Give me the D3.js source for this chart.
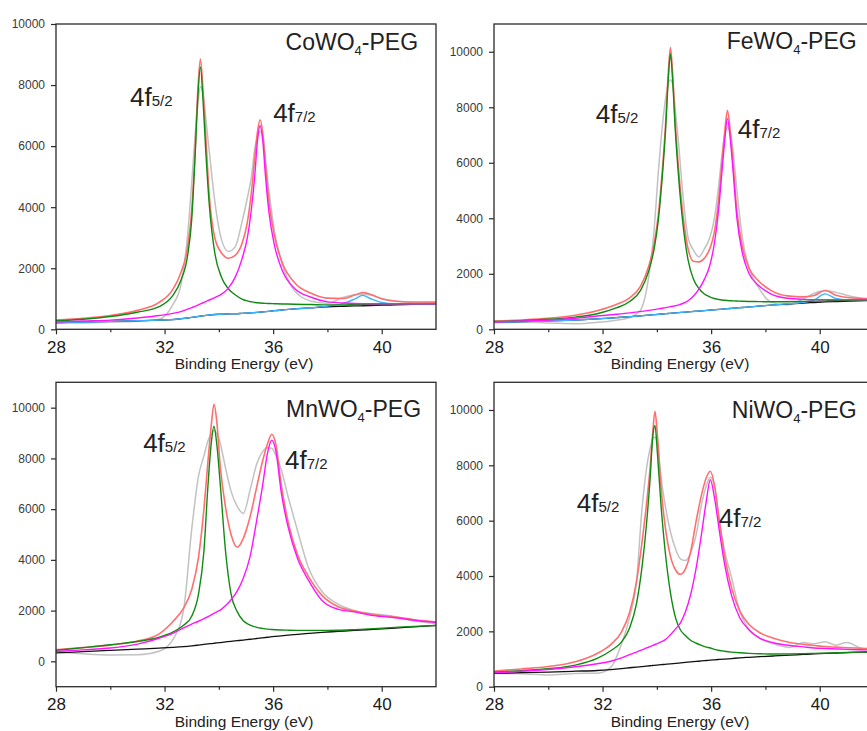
<!DOCTYPE html>
<html>
<head>
<meta charset="utf-8">
<script src="https://cdn.jsdelivr.net/npm/d3@7"></script>
<style>
    body { margin: 0; background: #fff; }
    svg { display: block; font-family: "Liberation Sans", Arial, sans-serif; }
</style>
</head>
<body>
<svg id="chart" width="867" height="731"></svg>
<script>
// ---- values (binding energy in eV, counts) ----
const energyTicks = [28, 32, 36, 40]
const energyMinor = [30, 34, 38]
const countTicks = [0, 2000, 4000, 6000, 8000, 10000]

// CoWO4-PEG
const coX    = [28, 29, 30, 31, 31.8, 32.3, 32.6, 32.85, 33.0, 33.12, 33.22, 33.32, 33.42, 33.52, 33.65, 33.85, 34.1, 34.35, 34.6, 34.85, 35.05, 35.2, 35.32, 35.42, 35.52, 35.62, 35.72, 35.85, 36.05, 36.35, 36.8, 37.4, 38.0, 38.6, 39.0, 39.3, 39.6, 40.0, 40.5, 41.2, 42]
const coRaw  = [200, 210, 230, 260, 330, 800, 1450, 3100, 4800, 6300, 7300, 7954, 7700, 6900, 5800, 4200, 2928, 2550, 2700, 3500, 4300, 5000, 5900, 6300, 6479, 6300, 5500, 4500, 3200, 2100, 1250, 920, 850, 1050, 1130, 1150, 1120, 1000, 930, 880, 870]
const coFit  = [300, 360, 450, 620, 880, 1300, 1850, 2700, 3900, 5750, 7750, 8852, 7800, 6300, 4350, 3000, 2500, 2328, 2420, 2800, 3500, 4500, 5600, 6450, 6862, 6400, 5400, 4150, 3050, 2150, 1520, 1180, 1020, 1010, 1120, 1200, 1140, 1000, 920, 895, 890]
const coF52  = [280, 330, 420, 560, 740, 1100, 1600, 2420, 3600, 5600, 7500, 8590, 7450, 5800, 4050, 2500, 1700, 1330, 1130, 990, 930, 900, 880, 870, 862, 855, 850, 845, 838, 830, 820, 810, 800, 800, 805, 808, 812, 815, 820, 828, 835]
const coF72  = [240, 270, 300, 370, 450, 520, 580, 660, 710, 750, 790, 830, 870, 910, 960, 1040, 1150, 1350, 1700, 2300, 3000, 3950, 5000, 6150, 6666, 6150, 5000, 3800, 2750, 1900, 1330, 1050, 900, 860, 845, 840, 838, 835, 835, 835, 838]
const coBg   = [220, 240, 260, 280, 300, 320, 345, 370, 390, 405, 418, 430, 442, 455, 468, 485, 495, 505, 510, 522, 532, 540, 548, 555, 562, 570, 578, 590, 610, 635, 668, 705, 738, 755, 765, 772, 780, 790, 800, 815, 830]
const coSat  = [220, 240, 260, 280, 300, 320, 345, 370, 390, 405, 418, 430, 442, 455, 468, 485, 495, 505, 510, 522, 532, 540, 548, 555, 562, 570, 578, 590, 610, 635, 668, 705, 760, 850, 990, 1110, 1000, 880, 830, 822, 830]

// FeWO4-PEG
const feX    = [28, 29, 30, 31, 31.8, 32.5, 33.0, 33.4, 33.7, 33.9, 34.05, 34.2, 34.32, 34.42, 34.5, 34.58, 34.68, 34.8, 34.95, 35.15, 35.35, 35.55, 35.75, 35.95, 36.12, 36.28, 36.4, 36.5, 36.6, 36.7, 36.8, 36.95, 37.15, 37.4, 37.75, 38.2, 38.8, 39.4, 39.8, 40.2, 40.6, 41.1, 42]
const feRaw  = [240, 250, 230, 200, 250, 330, 420, 700, 1900, 3600, 5600, 7300, 8300, 8850, 8983, 8850, 7900, 6700, 4950, 3300, 2850, 2610, 2900, 3300, 4000, 5200, 6300, 7000, 7282, 7100, 6500, 5000, 3300, 2200, 1500, 980, 880, 1100, 1300, 1400, 1330, 1200, 1060]
const feFit  = [295, 335, 395, 505, 665, 890, 1135, 1555, 2270, 3083, 4095, 5708, 7379, 9230, 10155, 9246, 7419, 5779, 4218, 2902, 2450, 2430, 2560, 2900, 3507, 4709, 6029, 7111, 7895, 7180, 6067, 4248, 2974, 2197, 1742, 1402, 1205, 1170, 1220, 1400, 1225, 1137, 1100]
const feF52  = [280, 310, 360, 440, 560, 770, 1000, 1400, 2100, 2900, 3900, 5500, 7161, 9000, 9917, 9000, 7161, 5500, 3900, 2500, 1800, 1470, 1270, 1170, 1110, 1075, 1055, 1045, 1037, 1030, 1025, 1018, 1010, 1003, 997, 992, 995, 1005, 1015, 1025, 1035, 1045, 1060]
const feF72  = [265, 300, 335, 400, 480, 540, 590, 640, 680, 710, 735, 760, 780, 800, 815, 830, 850, 880, 930, 1030, 1200, 1450, 1800, 2300, 3100, 4350, 5700, 6800, 7600, 6900, 5800, 4000, 2750, 2000, 1580, 1280, 1120, 1080, 1070, 1070, 1070, 1070, 1075]
const feBg   = [250, 275, 300, 335, 375, 420, 455, 485, 510, 527, 540, 552, 562, 570, 577, 584, 592, 601, 612, 628, 643, 658, 673, 690, 703, 716, 726, 734, 742, 750, 758, 770, 786, 806, 835, 870, 910, 945, 965, 985, 1000, 1018, 1045]
const feSat  = [250, 275, 300, 335, 375, 420, 455, 485, 510, 527, 540, 552, 562, 570, 577, 584, 592, 601, 612, 628, 643, 658, 673, 690, 703, 716, 726, 734, 742, 750, 758, 770, 786, 806, 835, 870, 915, 975, 1060, 1275, 1110, 1045, 1052]

// MnWO4-PEG
const mnX    = [28, 29, 30, 31, 31.8, 32.3, 32.7, 33.0, 33.25, 33.45, 33.6, 33.72, 33.82, 33.92, 34.05, 34.25, 34.45, 34.68, 34.9, 35.15, 35.4, 35.6, 35.8, 35.95, 36.1, 36.3, 36.55, 36.9, 37.3, 37.8, 38.4, 39, 39.7, 40.5, 41.2, 42]
const mnRaw  = [390, 300, 250, 260, 400, 850, 2030, 5200, 7300, 8100, 8700, 8950, 9100, 9000, 8600, 7600, 6700, 6100, 5832, 6750, 7800, 8250, 8420, 8400, 8120, 7550, 6500, 5150, 3700, 2750, 2250, 2000, 1880, 1760, 1590, 1507]
const mnFit  = [460, 540, 640, 800, 1080, 1560, 2100, 2830, 4100, 6000, 7900, 9300, 10130, 9500, 7700, 6050, 5000, 4497, 4850, 5700, 6900, 7850, 8600, 8950, 8550, 6950, 5500, 4200, 3350, 2600, 2150, 1980, 1830, 1750, 1640, 1550]
const mnF52  = [433, 540, 656, 780, 950, 1150, 1420, 1780, 2650, 4350, 6950, 8600, 9265, 8600, 7000, 4300, 2650, 1950, 1600, 1430, 1340, 1300, 1270, 1255, 1245, 1235, 1228, 1222, 1220, 1220, 1225, 1250, 1290, 1340, 1380, 1415]
const mnF72  = [393, 450, 524, 680, 910, 1100, 1320, 1470, 1580, 1680, 1760, 1830, 1890, 1950, 2020, 2200, 2430, 2780, 3280, 4130, 5600, 6850, 8250, 8715, 8300, 6650, 5300, 4050, 3200, 2400, 2050, 1950, 1800, 1720, 1620, 1533]
const mnBg   = [330, 380, 430, 480, 520, 550, 580, 610, 640, 665, 685, 700, 712, 724, 740, 765, 790, 815, 840, 870, 900, 925, 950, 970, 985, 1005, 1030, 1065, 1100, 1140, 1180, 1220, 1260, 1310, 1360, 1415]

// NiWO4-PEG
const niX    = [28, 29, 30, 31, 31.8, 32.3, 32.7, 33.0, 33.25, 33.45, 33.62, 33.75, 33.85, 33.93, 34.02, 34.15, 34.3, 34.5, 34.7, 34.87, 35.05, 35.25, 35.45, 35.65, 35.82, 35.97, 36.12, 36.3, 36.5, 36.75, 37.05, 37.4, 37.8, 38.3, 38.9, 39.4, 39.8, 40.2, 40.6, 41, 41.5, 42]
const niRaw  = [483, 470, 421, 480, 490, 700, 1550, 2524, 3800, 6400, 7900, 8600, 8950, 9012, 8800, 7600, 6600, 5600, 4950, 4620, 4560, 4850, 5500, 6600, 7250, 7573, 7250, 6000, 4900, 3950, 2750, 2050, 1750, 1550, 1420, 1600, 1550, 1620, 1500, 1600, 1400, 1330]
const niFit  = [560, 640, 730, 900, 1200, 1520, 1980, 2700, 3800, 5200, 6600, 7900, 9200, 9950, 9100, 7250, 5850, 4720, 4200, 4063, 4250, 4900, 6000, 6950, 7550, 7787, 7300, 6000, 4700, 3580, 2750, 2250, 1950, 1750, 1600, 1530, 1490, 1450, 1430, 1410, 1390, 1370]
const niF52  = [520, 580, 650, 780, 1020, 1300, 1620, 2130, 3000, 4300, 5890, 7500, 9050, 9440, 8450, 6600, 4950, 3400, 2450, 2050, 1850, 1670, 1570, 1490, 1430, 1400, 1350, 1310, 1280, 1250, 1225, 1205, 1190, 1180, 1185, 1195, 1205, 1215, 1225, 1235, 1250, 1262]
const niF72  = [500, 560, 620, 720, 830, 920, 1040, 1160, 1250, 1330, 1400, 1450, 1490, 1525, 1560, 1620, 1690, 1880, 2100, 2310, 2700, 3350, 4300, 5550, 6700, 7476, 6850, 5650, 4400, 3300, 2500, 2050, 1750, 1590, 1490, 1440, 1400, 1380, 1365, 1350, 1335, 1323]
const niBg   = [480, 505, 530, 560, 585, 620, 655, 685, 710, 728, 745, 757, 766, 774, 783, 795, 808, 826, 845, 860, 876, 894, 912, 930, 946, 960, 972, 986, 1000, 1018, 1040, 1062, 1085, 1110, 1140, 1165, 1185, 1203, 1218, 1232, 1248, 1262]

// ---- layout ----
const colors = {raw: "#c2c2c2", fit: "#ff6f6f", f52: "#118a11", f72: "#ff14ff", bg: "#111", sat: "#3db2ff"}

const panels = [
    {name: "CoWO", left: 56, top: 24, width: 380, height: 305.3, yDomain: [0, 10000],
        x: coX, raw: coRaw, fit: coFit, f52: coF52, f72: coF72, bg: coBg, sat: coSat,
        title: [41.34, 9149], l52: [30.73, 7314], l72: [36.0, 6790], axisTitleX: 244},
    {name: "FeWO", left: 494, top: 24, width: 380, height: 305.3, yDomain: [0, 11000],
        x: feX, raw: feRaw, fit: feFit, f52: feF52, f72: feF72, bg: feBg, sat: feSat,
        title: [41.36, 10101], l52: [31.75, 7434], l72: [36.98, 6894], axisTitleX: 680},
    {name: "MnWO", left: 56, top: 382.3, width: 380, height: 304.4, yDomain: [-1000, 11000],
        x: mnX, raw: mnRaw, fit: mnFit, f52: mnF52, f72: mnF72, bg: mnBg, sat: null,
        title: [41.45, 9619], l52: [31.21, 8243], l72: [36.44, 7575], axisTitleX: 244},
    {name: "NiWO", left: 494, top: 382.3, width: 380, height: 304.4, yDomain: [0, 11000],
        x: niX, raw: niRaw, fit: niFit, f52: niF52, f72: niF72, bg: niBg, sat: null,
        title: [41.36, 9711], l52: [31.05, 6314], l72: [36.28, 5772], axisTitleX: 680}
]

const svg = d3.select("#chart")
svg.append("rect").attr("width", 867).attr("height", 731).attr("fill", "#fff")

panels.forEach((p, i) => drawPanel(p, i))

function drawPanel(p, i) {
    const x = d3.scaleLinear().domain([28, 42]).range([p.left, p.left + p.width])
    const y = d3.scaleLinear().domain(p.yDomain).range([p.top + p.height, p.top])
    const g = svg.append("g")

    g.append("clipPath").attr("id", "clip" + i)
        .append("rect")
        .attr("x", p.left).attr("y", p.top)
        .attr("width", p.width).attr("height", p.height)

    const line = d3.line()
        .x(d => x(d[0]))
        .y(d => y(d[1]))
        .curve(d3.curveMonotoneX)

    const plot = g.append("g").attr("clip-path", `url(#clip${i})`)
    let series = [
        {values: p.raw, color: colors.raw, w: 1.5},
        {values: p.fit, color: colors.fit, w: 1.6},
        {values: p.bg, color: colors.bg, w: 1.3}
    ]
    if (p.sat) series.push({values: p.sat, color: colors.sat, w: 1.4})
    series.push({values: p.f52, color: colors.f52, w: 1.4})
    series.push({values: p.f72, color: colors.f72, w: 1.4})

    series.forEach(s => {
        plot.append("path")
            .datum(d3.zip(p.x, s.values))
            .attr("fill", "none")
            .attr("stroke", s.color)
            .attr("stroke-width", s.w)
            .attr("stroke-linejoin", "round")
            .attr("d", line)
    })

    // frame
    g.append("rect")
        .attr("x", p.left).attr("y", p.top)
        .attr("width", p.width).attr("height", p.height)
        .attr("fill", "none")
        .attr("stroke", "#2a2a2a")
        .attr("stroke-width", 1.3)

    const bottom = p.top + p.height
    const xAxis = g.append("g")
        .attr("transform", `translate(0,${bottom})`)
        .call(d3.axisBottom(x).tickValues(energyTicks).tickSize(5).tickPadding(6.5).tickFormat(d3.format("d")))
    xAxis.select(".domain").remove()
    xAxis.selectAll("line").attr("stroke", "#2a2a2a").attr("stroke-width", 1.2)
    xAxis.selectAll("text").attr("font-size", 17).attr("fill", "#1a1a1a")
        .attr("font-family", "Liberation Sans, Arial, sans-serif")

    const xMinor = g.append("g")
        .attr("transform", `translate(0,${bottom})`)
        .call(d3.axisBottom(x).tickValues(energyMinor).tickSize(3).tickFormat(""))
    xMinor.select(".domain").remove()
    xMinor.selectAll("line").attr("stroke", "#2a2a2a").attr("stroke-width", 1.2)

    const yAxis = g.append("g")
        .attr("transform", `translate(${p.left},0)`)
        .call(d3.axisLeft(y).tickValues(countTicks).tickSize(5).tickPadding(6).tickFormat(d3.format("d")))
    yAxis.select(".domain").remove()
    yAxis.selectAll("line").attr("stroke", "#2a2a2a").attr("stroke-width", 1.2)
    yAxis.selectAll("text").attr("font-size", 12).attr("fill", "#3a3a3a")
        .attr("font-family", "Liberation Sans, Arial, sans-serif")

    g.append("text")
        .attr("x", p.axisTitleX)
        .attr("y", bottom + 40)
        .attr("text-anchor", "middle")
        .attr("font-size", 15.5)
        .attr("fill", "#222")
        .text("Binding Energy (eV)")

    // sample name, e.g. CoWO4-PEG
    const title = g.append("text")
        .attr("x", x(p.title[0]))
        .attr("y", y(p.title[1]))
        .attr("text-anchor", "end")
        .attr("font-size", 23)
        .attr("fill", "#222")
    title.append("tspan").text(p.name)
    title.append("tspan").text("4").attr("font-size", 13).attr("dy", 5)
    title.append("tspan").text("-PEG").attr("dy", -5)

    peakLabel(g, x(p.l52[0]), y(p.l52[1]), "5/2")
    peakLabel(g, x(p.l72[0]), y(p.l72[1]), "7/2")
}

function peakLabel(g, px, py, sub) {
    const t = g.append("text")
        .attr("x", px)
        .attr("y", py)
        .attr("fill", "#222")
    t.append("tspan").text("4f").attr("font-size", 26)
    t.append("tspan").text(sub).attr("font-size", 15)
}
</script>
</body>
</html>
